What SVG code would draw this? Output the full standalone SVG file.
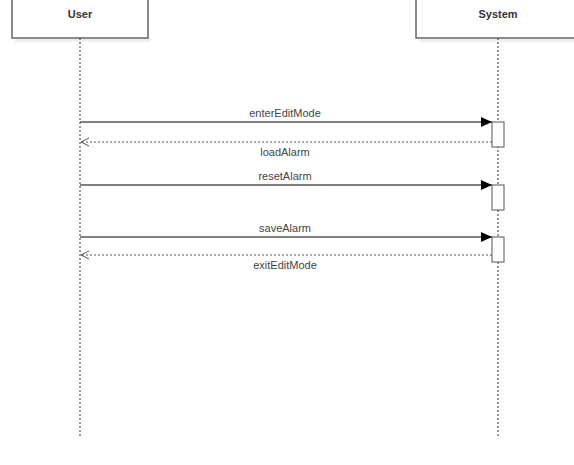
<svg xmlns="http://www.w3.org/2000/svg" width="574" height="465" viewBox="0 0 574 465">
<defs>
<marker id="solid" markerWidth="12" markerHeight="10" refX="11" refY="5" orient="auto" markerUnits="userSpaceOnUse">
<path d="M0,0 L11,5 L0,10 Z" fill="#000"/>
</marker>
<marker id="open" markerWidth="12" markerHeight="10" refX="10" refY="5" orient="auto" markerUnits="userSpaceOnUse">
<path d="M2,1 L10,5 L2,9" fill="none" stroke="#555" stroke-width="1"/>
</marker>
</defs>
<style>
.box{fill:#fff;stroke:#666;stroke-width:1.5}
.shadow{fill:#ddd;opacity:0.5}
.life{stroke:#333;stroke-width:1;stroke-dasharray:2,2}
.act{fill:#fff;stroke:#555;stroke-width:1}
.msg{stroke:#555;stroke-width:1.3;fill:none}
.ret{stroke:#555;stroke-width:1.1;stroke-dasharray:2,2;fill:none}
.title{font-family:"Liberation Sans",Arial,sans-serif;font-size:11px;font-weight:bold;fill:#333;text-anchor:middle}
.lbl{font-family:"Liberation Sans",Arial,sans-serif;font-size:11px;fill:#444;text-anchor:middle}
</style>
<rect width="574" height="465" fill="#fff"/>
<g id="user">
<rect class="shadow" x="15" y="38" width="136" height="4"/>
<path class="box" d="M12,-2 L12,38 L148,38 L148,-2"/>
<text class="title" x="80" y="18">User</text>
<line class="life" x1="80" y1="38" x2="80" y2="436"/>
</g>
<g id="system">
<rect class="shadow" x="420" y="38" width="160" height="4"/>
<path class="box" d="M416,-2 L416,38 L580,38"/>
<text class="title" x="498" y="18">System</text>
<line class="life" x1="498" y1="38" x2="498" y2="436"/>
<rect class="act" x="492" y="122" width="12" height="25"/>
<rect class="act" x="492" y="185" width="12" height="25"/>
<rect class="act" x="492" y="237" width="12" height="25"/>
</g>
<g id="connectors">
<line class="msg" x1="80" y1="122" x2="492" y2="122" marker-end="url(#solid)"/>
<text class="lbl" x="285" y="117">enterEditMode</text>
<line class="ret" x1="492" y1="142" x2="81" y2="142" marker-end="url(#open)"/>
<text class="lbl" x="285" y="156">loadAlarm</text>
<line class="msg" x1="80" y1="185" x2="492" y2="185" marker-end="url(#solid)"/>
<text class="lbl" x="285" y="180">resetAlarm</text>
<line class="msg" x1="80" y1="237" x2="492" y2="237" marker-end="url(#solid)"/>
<text class="lbl" x="285" y="232">saveAlarm</text>
<line class="ret" x1="492" y1="255" x2="81" y2="255" marker-end="url(#open)"/>
<text class="lbl" x="285" y="269">exitEditMode</text>
</g>
</svg>
